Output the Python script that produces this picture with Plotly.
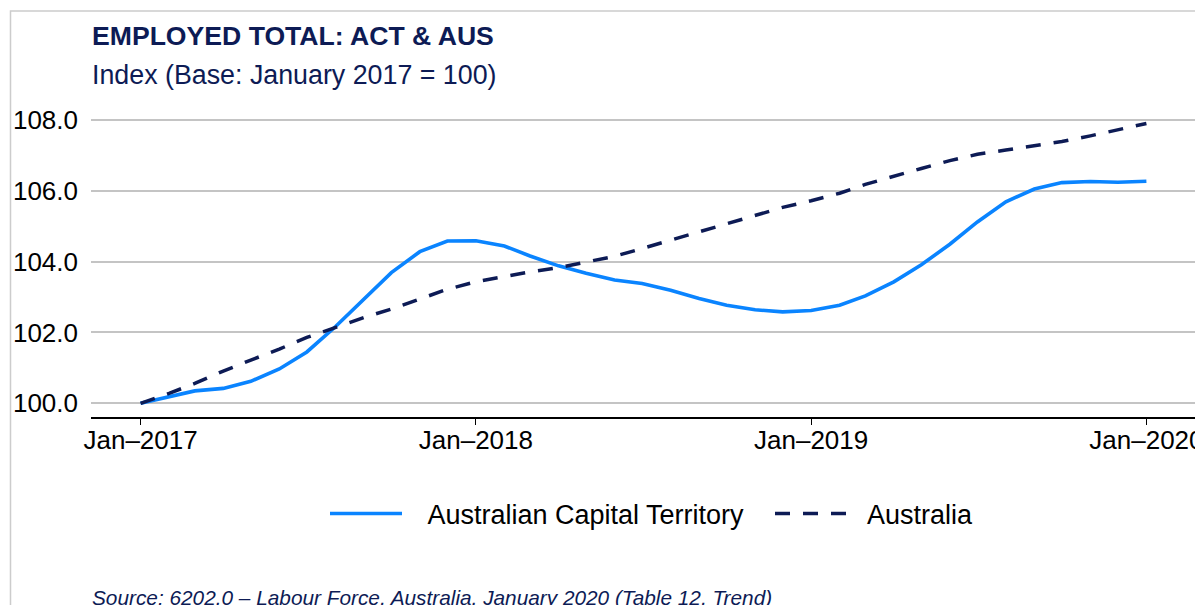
import plotly.graph_objects as go
import pandas as pd

months = pd.date_range("2017-01-01", "2020-01-01", freq="MS")

act = [100.0, 100.19, 100.35, 100.42, 100.62, 100.97, 101.45, 102.16, 102.94, 103.69,
       104.28, 104.58, 104.59, 104.44, 104.16, 103.88, 103.67, 103.48, 103.38, 103.19,
       102.96, 102.77, 102.64, 102.58, 102.62, 102.77, 103.03, 103.43, 103.91, 104.49,
       105.12, 105.69, 106.05, 106.23, 106.26, 106.24, 106.27]

aus = [100.0, 100.28, 100.56, 100.91, 101.22, 101.53, 101.86, 102.15, 102.42, 102.66,
       102.94, 103.22, 103.43, 103.58, 103.71, 103.83, 103.98, 104.15, 104.37, 104.61,
       104.85, 105.06, 105.30, 105.53, 105.72, 105.93, 106.18, 106.42, 106.63, 106.85,
       107.03, 107.15, 107.27, 107.39, 107.55, 107.72, 107.90]

series_names = ["Australian Capital Territory", "Australia"]
x_tickvals = ["2017-01-01", "2018-01-01", "2019-01-01", "2020-01-01"]
x_ticktext = ["Jan\u20132017", "Jan\u20132018", "Jan\u20132019", "Jan\u20132020"]
y_tickvals = [100, 102, 104, 106, 108]

title = "EMPLOYED TOTAL: ACT &amp; AUS"
subtitle = "Index (Base: January 2017 = 100)"
source = "Source: 6202.0 \u2013 Labour Force, Australia, January 2020 (Table 12, Trend)"

NAVY = "#0d1b55"
BLUE = "#0a84ff"
FONT = "Liberation Sans, Arial, sans-serif"

# page body has an 8px margin: figure sized to the remaining window
OFF = 8
W, H = 1203 - OFF, 605 - OFF
L, R, T, B = 83, 7, 102, 188
pw, ph = W - L - R, H - T - B


def px(xs):
    # screen pixel -> paper x
    return (xs - OFF - L) / pw


def py(ys):
    # screen pixel -> paper y
    return (H - B - (ys - OFF)) / ph


GAP = "\u00a0\u00a0\u2009"

fig = go.Figure()
fig.add_trace(go.Scatter(x=months, y=act, name=GAP + series_names[0], mode="lines",
                         line=dict(color=BLUE, width=3.6)))
fig.add_trace(go.Scatter(x=months, y=aus, name="\u00a0\u00a0" + series_names[1], mode="lines",
                         line=dict(color=NAVY, width=3.5, dash="15px,13px")))

fig.update_layout(
    width=W, height=H,
    margin=dict(l=L, r=R, t=T, b=B, pad=0, autoexpand=False),
    paper_bgcolor="white", plot_bgcolor="white",
    font=dict(family=FONT, size=26, color="black"),
    showlegend=True,
    legend=dict(orientation="h", x=px(325), xanchor="left", y=py(514), yanchor="middle",
                font=dict(size=27, color="black"), itemwidth=72,
                entrywidth=358, entrywidthmode="pixels",
                bgcolor="rgba(0,0,0,0)"),
    xaxis=dict(type="date", range=["2016-11-08", "2020-02-24"],
               tickvals=x_tickvals, ticktext=x_ticktext, automargin=False,
               showgrid=False, zeroline=False,
               showline=True, linecolor="black", linewidth=2,
               ticks="outside", ticklen=6, tickwidth=1, tickcolor="black",
               ticklabeloverflow="allow", ticklabelstandoff=-7,
               tickfont=dict(size=26, color="black")),
    yaxis=dict(range=[99.613, 108.28], tickvals=y_tickvals, tickformat=".1f",
               automargin=False,
               showgrid=True, gridcolor="#c4c4c4", gridwidth=1.5,
               zeroline=False, showline=False, ticks="",
               ticklabelstandoff=12,
               tickfont=dict(size=26, color="black")),
    annotations=[
        dict(text="<b>" + title + "</b>", xref="paper", yref="paper",
             x=px(90), y=py(36), xanchor="left", yanchor="middle", showarrow=False,
             font=dict(size=26.6, color=NAVY, family=FONT)),
        dict(text=subtitle, xref="paper", yref="paper",
             x=px(90), y=py(75), xanchor="left", yanchor="middle", showarrow=False,
             font=dict(size=26.8, color=NAVY, family=FONT)),
        dict(text="<i>" + source + "</i>", xref="paper", yref="paper",
             x=px(90), y=py(584), xanchor="left", yanchor="top", showarrow=False,
             font=dict(size=20.8, color=NAVY, family=FONT)),
    ],
    shapes=[
        dict(type="rect", xref="paper", yref="paper",
             x0=px(10.5), x1=px(1260), y0=py(11), y1=py(700),
             line=dict(color="#cccccc", width=1.5), fillcolor="rgba(0,0,0,0)",
             layer="below"),
    ],
)

fig.write_html("out.html")
